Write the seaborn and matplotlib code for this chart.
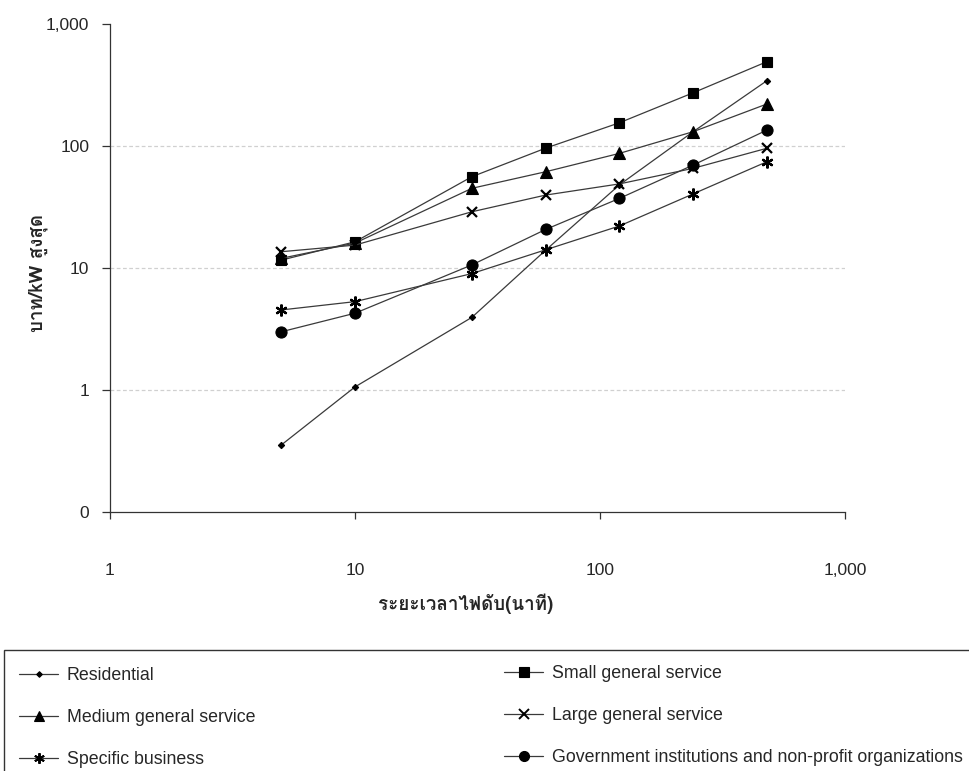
import numpy as np
import pandas as pd
import matplotlib
matplotlib.use("Agg")
import matplotlib.pyplot as plt
import seaborn as sns
from matplotlib import font_manager, ft2font
from matplotlib.lines import Line2D
from matplotlib.patches import Rectangle

# ---------------- data ----------------
minutes = [5, 10, 30, 60, 120, 240, 480]
residential = [0.354, 1.06, 3.94, 14.0, 48.0, 131.0, 343.0]
small_gs = [11.6, 16.4, 56.0, 96.0, 155.0, 273.0, 491.0]
medium_gs = [12.0, 16.0, 45.0, 61.5, 87.0, 131.0, 221.0]
large_gs = [13.6, 15.4, 28.9, 39.6, 48.9, 65.6, 95.8]
specific = [4.53, 5.3, 9.0, 14.1, 22.1, 40.5, 74.3]
government = [3.0, 4.26, 10.6, 20.7, 37.2, 69.8, 135.0]

series_names = ["Residential", "Small general service", "Medium general service",
                "Large general service", "Specific business",
                "Government institutions and non-profit organizations"]
series_vals = [residential, small_gs, medium_gs, large_gs, specific, government]

y_ticks = [0.1, 1, 10, 100, 1000]
y_ticklabels = ["0", "1", "10", "100", "1,000"]
x_ticks = [1, 10, 100, 1000]
x_ticklabels = ["1", "10", "100", "1,000"]

x_label = "ระยะเวลาไฟดับ(นาที)"
y_label = "บาท/kW สูงสุด"

# ---------------- fonts ----------------
sns.set_theme(style="white")
def find_thai():
    best = None
    for f in font_manager.fontManager.ttflist:
        try:
            ft = ft2font.FT2Font(f.fname)
            if ft.get_char_index(0x0E1A) and ft.get_char_index(0x0E2A):
                if best is None or "Loma" in f.name or "Tlwg" in f.name:
                    best = f.name
        except Exception:
            pass
    return best

thai_font = find_thai()
thai_family = [thai_font, "DejaVu Sans"] if thai_font else ["DejaVu Sans"]
plt.rcParams["font.family"] = ["Liberation Sans", "DejaVu Sans"]

# ---------------- data frame ----------------
rows = []
for name, vals in zip(series_names, series_vals):
    for m, v in zip(minutes, vals):
        rows.append({"minutes": m, "value": v, "series": name})
df = pd.DataFrame(rows)

markers = {
    "Residential": "D",
    "Small general service": "s",
    "Medium general service": "^",
    "Large general service": "x",
    "Specific business": (6, 2, 0),
    "Government institutions and non-profit organizations": "o",
}
msizes = {
    "Residential": 3.2,
    "Small general service": 7.5,
    "Medium general service": 8,
    "Large general service": 7.5,
    "Specific business": 8.5,
    "Government institutions and non-profit organizations": 8,
}

fig = plt.figure(figsize=(9.69, 7.71), dpi=100)
ax = fig.add_axes([110 / 969, 259 / 771, 735 / 969, 488 / 771])

line_color = "#3a3a3a"
for name in series_names:
    sub = df[df["series"] == name]
    sns.lineplot(data=sub, x="minutes", y="value", ax=ax, color=line_color,
                 linewidth=0.9, marker=markers[name], markersize=msizes[name],
                 markerfacecolor="black", markeredgecolor="black",
                 markeredgewidth=1.6 if name in ("Large general service", "Specific business") else 0.8,
                 legend=False, zorder=3)

ax.set_xscale("log")
ax.set_yscale("log")
ax.set_xlim(1, 1000)
ax.set_ylim(0.1, 1000)
ax.set_yticks(y_ticks)
ax.set_yticklabels(y_ticklabels)
ax.set_xticks(x_ticks)
ax.set_xticklabels(x_ticklabels)
ax.minorticks_off()
ax.tick_params(axis="y", which="major", direction="out", length=6, width=0.9,
               color="#333333", pad=9, labelsize=12.5, left=True)
ax.tick_params(axis="x", which="major", direction="out", length=5, width=0.9,
               color="#333333", pad=32, labelsize=12.5, bottom=True)

for sp in ["top", "right"]:
    ax.spines[sp].set_visible(False)
for sp in ["left", "bottom"]:
    ax.spines[sp].set_color("#333333")
    ax.spines[sp].set_linewidth(0.9)

for yv in [1, 10, 100]:
    ax.axhline(yv, color="#d0d0d0", lw=0.9, ls=(0, (3, 2)), zorder=1)

ax.set_xlabel(x_label, family=thai_family, fontweight="bold", fontsize=13.5)
ax.xaxis.set_label_coords((466 - 110) / 735, (512 - 594) / 488)
ax.set_ylabel(y_label, family=thai_family, fontweight="bold", fontsize=13.5)
ax.yaxis.set_label_coords((48 - 110) / 735, 0.49)

# ---------------- legend ----------------
def handle(name):
    return Line2D([0], [0], color=line_color, lw=0.9, marker=markers[name],
                  markersize=msizes[name] * 0.9, markerfacecolor="black",
                  markeredgecolor="black",
                  markeredgewidth=1.4 if name in ("Large general service", "Specific business") else 0.8)

col1 = ["Residential", "Medium general service", "Specific business"]
col2 = ["Small general service", "Large general service",
        "Government institutions and non-profit organizations"]

fig.patches.append(Rectangle((4 / 969, -0.05), 1.0, 0.05 + 121 / 771,
                             transform=fig.transFigure, fill=False,
                             edgecolor="#333333", lw=1.0))

common = dict(frameon=False, fontsize=12.8, handlelength=2.2, handletextpad=0.5,
              labelspacing=1.42, borderpad=0, borderaxespad=0)
leg1 = fig.legend([handle(n) for n in col1], col1, loc="upper left",
                  bbox_to_anchor=(19 / 969, 1 - 667 / 771), **common)
leg2 = fig.legend([handle(n) for n in col2], col2, loc="upper left",
                  bbox_to_anchor=(504 / 969, 1 - 665 / 771), **common)

fig.savefig("out.png", dpi=100)
